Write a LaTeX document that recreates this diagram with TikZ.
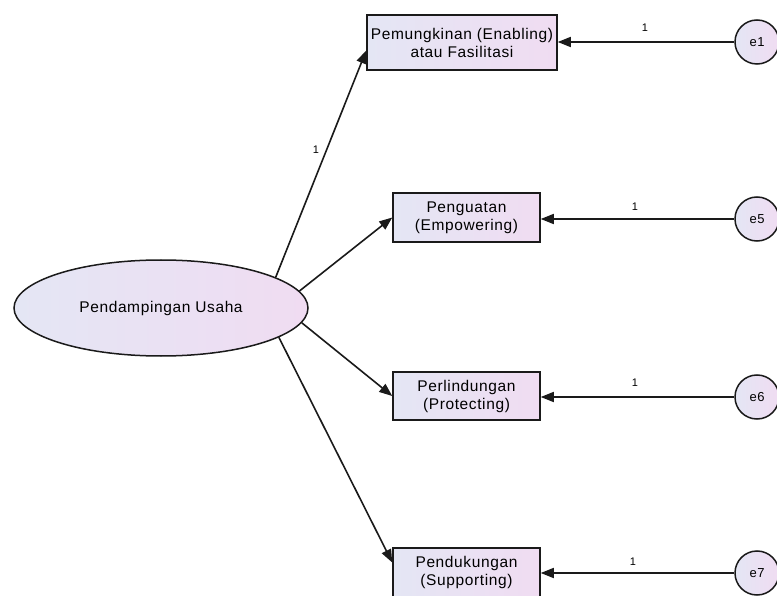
\documentclass[tikz,border=0pt]{standalone}
\usepackage{fontspec}
\setmainfont{Liberation Sans}[LetterSpace=4]
\usetikzlibrary{shapes.geometric,arrows.meta,calc}
\definecolor{fillL}{HTML}{E4E6F4}
\definecolor{fillR}{HTML}{F0DCF2}
\definecolor{edge}{HTML}{1A1A1A}
\tikzset{
  obs/.style={draw=edge,line width=1.5pt,left color=fillL,right color=fillR,
    rectangle,inner sep=0pt,align=center,font=\fontsize{15.5}{18}\selectfont},
  lat/.style={draw=edge,line width=1.5pt,left color=fillL,right color=fillR,
    ellipse,inner sep=0pt,minimum width=294pt,minimum height=96pt,font=\fontsize{15.5}{18}\selectfont},
  err/.style={draw=edge,line width=1.5pt,left color=fillL,right color=fillR,
    circle,inner sep=0pt,minimum size=44pt,font=\fontsize{13}{15}\selectfont},
  path/.style={draw=edge,line width=1.6pt,-{Triangle[length=13pt,width=10pt]}},
  wt/.style={font=\fontsize{11}{13}\selectfont,inner sep=0pt}
}
\begin{document}
\begin{tikzpicture}[x=1pt,y=-1pt]
\useasboundingbox (0,0) rectangle (777,596);
\fill[white] (0,0) rectangle (777,596);
\node[lat] (ell) at (161,308) {Pendampingan Usaha};
\node[obs,minimum width=190pt,minimum height=55pt] (b1) at (462,42.5) {Pemungkinan (Enabling)\\atau Fasilitasi};
\node[obs,minimum width=147pt,minimum height=49pt] (b2) at (466.5,217.5) {Penguatan\\(Empowering)};
\node[obs,minimum width=147pt,minimum height=48pt] (b3) at (466.5,396) {Perlindungan\\(Protecting)};
\node[obs,minimum width=147pt,minimum height=49pt] (b4) at (466.5,572.5) {Pendukungan\\(Supporting)};
\node[err] (e1) at (757,42) {e1};
\node[err] (e5) at (757,219) {e5};
\node[err] (e6) at (757,397) {e6};
\node[err] (e7) at (757,573) {e7};
\draw[path] (ell.15) -- ($(b1.west)+(0,8)$);
\draw[path] (ell.7) -- (b2.west);
\draw[path] (ell.-6) -- (b3.west);
\draw[path] (ell.-14) -- ($(b4.west)+(0,-10)$);
\draw[path] (e1.west) -- (e1.west -| b1.east);
\draw[path] (e5.west) -- (e5.west -| b2.east);
\draw[path] (e6.west) -- (e6.west -| b3.east);
\draw[path] (e7.west) -- (e7.west -| b4.east);
\node[wt] (w0) at (316,150) {1};
\node[wt] (w1) at (645,28) {1};
\node[wt] (w5) at (635,207) {1};
\node[wt] (w6) at (635,383) {1};
\node[wt] (w7) at (633,562) {1};
\end{tikzpicture}
\end{document}
